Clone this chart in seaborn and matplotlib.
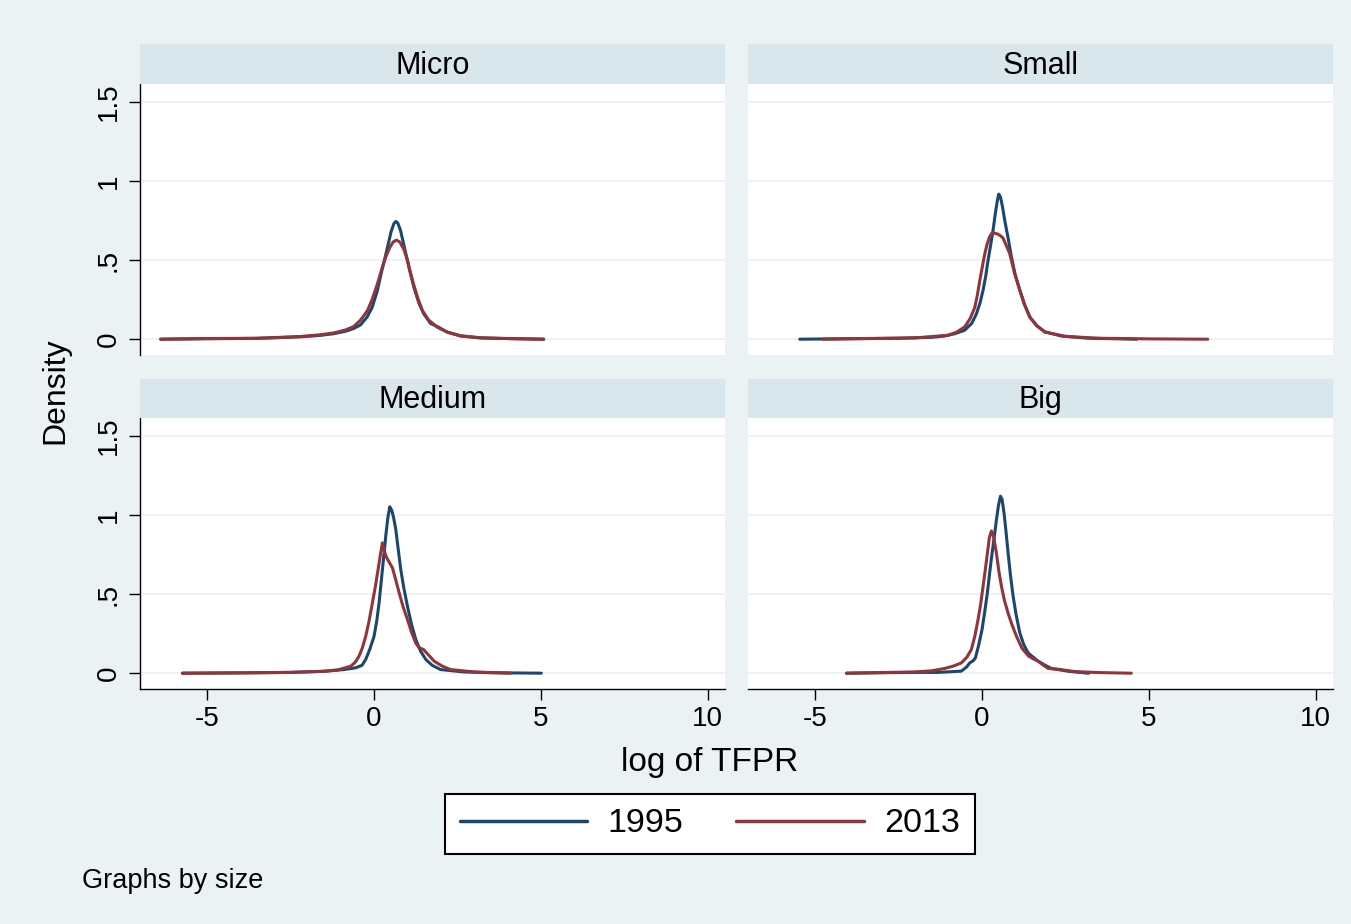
import matplotlib
matplotlib.use("Agg")
import matplotlib.pyplot as plt
from matplotlib.lines import Line2D
from matplotlib.patches import Rectangle
import pandas as pd
import seaborn as sns

# Kernel density of log TFPR by firm size, 1995 vs 2013
years = ["1995", "2013"]
sizes = ["Micro", "Small", "Medium", "Big"]

micro_1995_x = [-6.38, -5.0, -3.5, -2.19, -1.6, -1.19, -0.85, -0.6, -0.4, -0.2, -0.05, 0.1, 0.25, 0.4, 0.52, 0.6, 0.66, 0.72, 0.8, 0.92, 1.06, 1.2, 1.35, 1.5, 1.7, 1.95, 2.2, 2.6, 3.2, 4.0, 5.09]
micro_1995_y = [0.0, 0.003, 0.005, 0.015, 0.024, 0.035, 0.05, 0.068, 0.09, 0.14, 0.2, 0.3, 0.44, 0.57, 0.68, 0.73, 0.745, 0.735, 0.69, 0.58, 0.45, 0.33, 0.23, 0.16, 0.1, 0.075, 0.045, 0.02, 0.008, 0.004, 0.0]
micro_2013_x = [-6.38, -5.0, -3.5, -2.19, -1.6, -1.19, -0.85, -0.6, -0.4, -0.19, -0.05, 0.11, 0.25, 0.36, 0.48, 0.58, 0.68, 0.78, 0.9, 1.01, 1.1, 1.19, 1.32, 1.46, 1.65, 1.91, 2.2, 2.6, 3.2, 4.0, 5.09]
micro_2013_y = [0.0, 0.004, 0.006, 0.017, 0.028, 0.04, 0.058, 0.08, 0.12, 0.18, 0.25, 0.35, 0.45, 0.52, 0.58, 0.615, 0.627, 0.615, 0.57, 0.5, 0.42, 0.35, 0.26, 0.18, 0.12, 0.075, 0.045, 0.022, 0.009, 0.004, 0.0]

small_1995_x = [-5.45, -4.0, -2.5, -1.5, -1.11, -0.8, -0.51, -0.3, -0.16, -0.05, 0.04, 0.12, 0.19, 0.27, 0.34, 0.41, 0.47, 0.51, 0.56, 0.62, 0.69, 0.79, 0.89, 1.0, 1.14, 1.28, 1.44, 1.65, 1.89, 2.39, 3.2, 4.64]
small_1995_y = [0.0, 0.003, 0.006, 0.012, 0.02, 0.035, 0.057, 0.1, 0.16, 0.23, 0.31, 0.4, 0.5, 0.6, 0.69, 0.8, 0.88, 0.918, 0.9, 0.84, 0.75, 0.64, 0.52, 0.41, 0.31, 0.22, 0.14, 0.085, 0.046, 0.02, 0.006, 0.0]
small_2013_x = [-4.76, -3.5, -2.0, -1.01, -0.75, -0.51, -0.35, -0.21, -0.13, -0.06, 0.02, 0.09, 0.16, 0.23, 0.31, 0.4, 0.48, 0.56, 0.64, 0.72, 0.84, 0.98, 1.14, 1.28, 1.44, 1.65, 1.89, 2.5, 3.5, 5.0, 6.77]
small_2013_y = [0.0, 0.004, 0.008, 0.025, 0.045, 0.078, 0.13, 0.2, 0.28, 0.37, 0.46, 0.54, 0.6, 0.645, 0.673, 0.67, 0.665, 0.655, 0.64, 0.6, 0.54, 0.42, 0.31, 0.22, 0.14, 0.085, 0.046, 0.018, 0.006, 0.002, 0.0]

medium_1995_x = [-5.73, -4.0, -2.5, -1.5, -0.89, -0.54, -0.35, -0.24, -0.12, 0.01, 0.09, 0.16, 0.21, 0.26, 0.31, 0.36, 0.42, 0.48, 0.54, 0.6, 0.66, 0.73, 0.81, 0.9, 1.01, 1.13, 1.26, 1.4, 1.56, 1.75, 2.0, 2.7, 3.5, 5.02]
medium_1995_y = [0.0, 0.002, 0.005, 0.012, 0.023, 0.034, 0.05, 0.087, 0.15, 0.234, 0.33, 0.445, 0.55, 0.656, 0.76, 0.867, 0.98, 1.053, 1.03, 0.98, 0.91, 0.79, 0.656, 0.54, 0.424, 0.31, 0.213, 0.14, 0.087, 0.05, 0.023, 0.008, 0.003, 0.0]
medium_2013_x = [-5.73, -4.0, -2.5, -1.5, -1.09, -0.69, -0.55, -0.44, -0.34, -0.24, -0.14, -0.04, 0.05, 0.13, 0.2, 0.26, 0.32, 0.39, 0.47, 0.56, 0.66, 0.76, 0.88, 1.01, 1.13, 1.26, 1.37, 1.49, 1.62, 1.81, 2.05, 2.3, 3.0, 4.1]
medium_2013_y = [0.0, 0.002, 0.005, 0.012, 0.02, 0.044, 0.07, 0.108, 0.16, 0.234, 0.33, 0.445, 0.55, 0.656, 0.75, 0.825, 0.77, 0.73, 0.7, 0.667, 0.59, 0.51, 0.42, 0.34, 0.26, 0.19, 0.16, 0.15, 0.12, 0.076, 0.045, 0.023, 0.008, 0.0]

big_1995_x = [-4.05, -3.0, -2.0, -1.3, -0.61, -0.45, -0.36, -0.25, -0.19, -0.1, 0.01, 0.09, 0.17, 0.24, 0.31, 0.38, 0.44, 0.5, 0.56, 0.61, 0.67, 0.73, 0.79, 0.86, 0.94, 1.03, 1.14, 1.26, 1.39, 1.55, 1.69, 1.9, 2.09, 2.6, 3.2]
big_1995_y = [0.0, 0.003, 0.005, 0.005, 0.013, 0.04, 0.065, 0.08, 0.097, 0.17, 0.277, 0.39, 0.51, 0.64, 0.76, 0.87, 0.97, 1.06, 1.12, 1.1, 1.01, 0.89, 0.76, 0.62, 0.487, 0.37, 0.255, 0.18, 0.128, 0.1, 0.076, 0.05, 0.03, 0.012, 0.0]
big_2013_x = [-4.05, -3.0, -2.0, -1.5, -1.11, -0.85, -0.61, -0.45, -0.31, -0.2, -0.11, -0.03, 0.04, 0.11, 0.17, 0.23, 0.29, 0.36, 0.44, 0.51, 0.59, 0.68, 0.79, 0.9, 1.04, 1.2, 1.39, 1.55, 1.69, 1.85, 1.99, 2.28, 2.8, 3.5, 4.48]
big_2013_y = [0.0, 0.004, 0.008, 0.015, 0.03, 0.045, 0.065, 0.1, 0.15, 0.24, 0.34, 0.44, 0.55, 0.66, 0.76, 0.86, 0.9, 0.86, 0.76, 0.65, 0.55, 0.46, 0.38, 0.31, 0.234, 0.16, 0.11, 0.09, 0.076, 0.05, 0.03, 0.025, 0.01, 0.004, 0.0]

x_ticks = [-5, 0, 5, 10]
y_ticks = [0, 0.5, 1, 1.5]
y_tick_labels = ["0", ".5", "1", "1.5"]

curves = {
    ("Micro", "1995"): (micro_1995_x, micro_1995_y),
    ("Micro", "2013"): (micro_2013_x, micro_2013_y),
    ("Small", "1995"): (small_1995_x, small_1995_y),
    ("Small", "2013"): (small_2013_x, small_2013_y),
    ("Medium", "1995"): (medium_1995_x, medium_1995_y),
    ("Medium", "2013"): (medium_2013_x, medium_2013_y),
    ("Big", "1995"): (big_1995_x, big_1995_y),
    ("Big", "2013"): (big_2013_x, big_2013_y),
}
frames = []
for (size, year), (xs, ys) in curves.items():
    frames.append(pd.DataFrame({"size": size, "year": year, "tfpr": xs, "density": ys}))
df = pd.concat(frames, ignore_index=True)

sns.set_theme(style="white")
plt.rcParams["font.family"] = ["Liberation Sans", "DejaVu Sans"]
plt.rcParams["text.color"] = "black"
plt.rcParams["xtick.color"] = "black"
plt.rcParams["ytick.color"] = "black"

BG = "#EAF2F3"
STRIP = "#D9E6EB"
GRID = "#EAF2F3"
palette = {"1995": "#1A476F", "2013": "#90353B"}

W, H = 1351, 924
fig = plt.figure(figsize=(W / 100, H / 100), dpi=100, facecolor=BG)


def fx(px):
    return px / W


def fy(py):
    return 1 - py / H


panels = {
    "Micro": (140, 84, 725, 355, 44),
    "Small": (748, 84, 1333, 355, 44),
    "Medium": (140, 418, 725, 689, 379),
    "Big": (748, 418, 1333, 689, 379),
}

for size, (x0, y0, x1, y1, ys) in panels.items():
    ax = fig.add_axes([fx(x0), fy(y1), fx(x1 - x0), (y1 - y0) / H])
    ax.set_facecolor("white")
    sub = df[df["size"] == size]
    sns.lineplot(data=sub, x="tfpr", y="density", hue="year", palette=palette,
                 estimator=None, sort=False, linewidth=2.2, legend=False, ax=ax)
    ax.set_xlim(-7.0, 10.52)
    ax.set_ylim(-0.10, 1.615)
    ax.set_yticks(y_ticks)
    ax.set_xticks(x_ticks)
    ax.yaxis.grid(True, color=GRID, linewidth=1.3)
    ax.xaxis.grid(False)
    ax.set_axisbelow(True)
    ax.set_xlabel("")
    ax.set_ylabel("")
    for s in ax.spines.values():
        s.set_visible(False)
    left = size in ("Micro", "Medium")
    bottom = size in ("Medium", "Big")
    if left:
        ax.spines["left"].set_visible(True)
        ax.spines["left"].set_color("black")
        ax.spines["left"].set_linewidth(1.0)
        ax.set_yticklabels(y_tick_labels, rotation=90, va="center", fontsize=20, color="black")
        ax.tick_params(axis="y", left=True, length=8, width=1.0, color="black", pad=5)
    else:
        ax.tick_params(axis="y", left=False, labelleft=False)
    if bottom:
        ax.spines["bottom"].set_visible(True)
        ax.spines["bottom"].set_color("black")
        ax.spines["bottom"].set_linewidth(1.0)
        ax.set_xticklabels([str(t) for t in x_ticks], fontsize=20, color="black")
        ax.tick_params(axis="x", bottom=True, length=8, width=1.0, color="black", pad=4)
    else:
        ax.tick_params(axis="x", bottom=False, labelbottom=False)

    # strip header above the panel
    sax = fig.add_axes([fx(x0), fy(y0), fx(x1 - x0), (y0 - ys) / H])
    sax.set_axis_off()
    sax.add_patch(Rectangle((0, 0), 1, 1, transform=sax.transAxes, facecolor=STRIP, edgecolor="none"))
    sax.text(0.5, 0.45, size, ha="center", va="center", fontsize=22, color="black", transform=sax.transAxes)

fig.text(fx(710), fy(762), "log of TFPR", ha="center", va="center", fontsize=24, color="black")
fig.text(fx(55), fy(391), "Density", ha="center", va="center", rotation=90, fontsize=23, color="black")
fig.text(fx(82), fy(881), "Graphs by size", ha="left", va="center", fontsize=19.5, color="black")

handles = [Line2D([], [], color=palette[y], linewidth=2.5) for y in years]
leg = fig.legend(handles, years, loc="center", bbox_to_anchor=(fx(710), fy(824)), ncol=2,
                 frameon=True, fancybox=False, fontsize=24.5, handlelength=3.75,
                 handletextpad=0.6, columnspacing=1.55, borderpad=0.42)
leg.get_frame().set_edgecolor("black")
leg.get_frame().set_linewidth(1.5)
leg.get_frame().set_facecolor("white")
leg.get_frame().set_alpha(1)
for t in leg.get_texts():
    t.set_color("black")

fig.savefig("out.png", dpi=100, facecolor=BG)
